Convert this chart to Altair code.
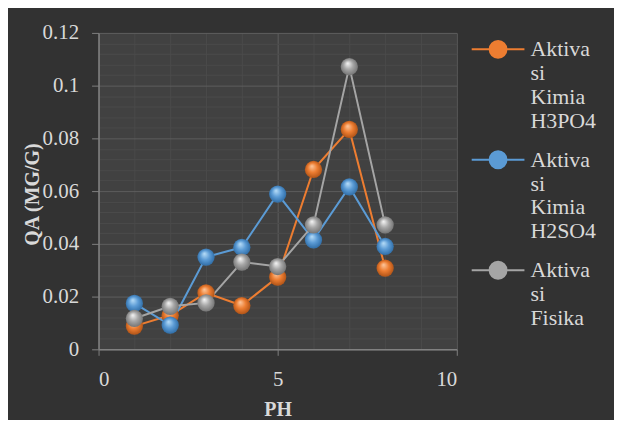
import altair as alt
import pandas as pd

ph = [1, 2, 3, 4, 5, 6, 7, 8]
series_keys = ["Aktiva|si|Kimia|H3PO4", "Aktiva|si|Kimia|H2SO4", "Aktiva|si|Fisika"]
qa_h3po4 = [0.0088, 0.0129, 0.0214, 0.0166, 0.0274, 0.0682, 0.0834, 0.0308]
qa_h2so4 = [0.0174, 0.0092, 0.0350, 0.0387, 0.0589, 0.0415, 0.0616, 0.0390]
qa_fisika = [0.0117, 0.0163, 0.0176, 0.0331, 0.0314, 0.0472, 0.1072, 0.0472]
colors = ["#ED7D31", "#5B9BD5", "#A5A5A5"]
lights = ["#fcc9a0", "#b9def8", "#f7f7f7"]
darks = ["#a84e14", "#2a67a0", "#6e6e6e"]

rows = []
for key, vals in zip(series_keys, [qa_h3po4, qa_h2so4, qa_fisika]):
    for p, v in zip(ph, vals):
        rows.append({"pH": p, "QA": v, "Seri": key})
df = pd.DataFrame(rows)

FONT = "'Liberation Serif', 'Times New Roman', serif"
TXT = "#d9d9d9"

x_enc = alt.X(
    "pH:Q",
    scale=alt.Scale(domain=[0, 10], nice=False),
    axis=alt.Axis(
        values=list(range(0, 11)),
        labelExpr="datum.value % 5 === 0 ? datum.label : ''",
        gridColor={"condition": {"test": "datum.value % 5 === 0", "value": "#5e5e5e"}, "value": "#4b4b4b"},
        tickColor={"condition": {"test": "datum.value % 5 === 0", "value": "#808080"}, "value": "transparent"},
        title="PH",
        titleY=61,
        titleBaseline="middle",
        labelPadding=13,
        tickSize=6,
    ),
)
y_vals = [round(i * 0.004, 3) for i in range(31)]
y_enc = alt.Y(
    "QA:Q",
    scale=alt.Scale(domain=[0, 0.12], nice=False),
    axis=alt.Axis(
        values=y_vals,
        labelExpr="round(datum.value*1000) % 20 === 0 ? format(datum.value, '~g') : ''",
        gridColor={"condition": {"test": "round(datum.value*1000) % 20 === 0", "value": "#5e5e5e"}, "value": "#4b4b4b"},
        tickColor={"condition": {"test": "round(datum.value*1000) % 20 === 0", "value": "#808080"}, "value": "transparent"},
        title="QA (MG/G)",
        titleX=-66,
        titleY=162,
        titleAngle=270,
        titleAlign="center",
        titleBaseline="middle",
        labelPadding=13,
        tickSize=7,
    ),
)

sym_path = ("M-1,0L-0.32,0M0.32,0L1,0M0.32,0A0.32,0.32,0,1,1,-0.32,0"
            "A0.32,0.32,0,1,1,0.32,0Z")

legend = alt.Legend(
    orient="none",
    legendX=374,
    legendY=-11,
    title=None,
    symbolType=sym_path,
    symbolSize=2809,
    symbolStrokeWidth=2,
    symbolFillColor=alt.ExprRef("scale('color', datum.value)"),
    labelFont=FONT,
    labelFontSize=22,
    labelColor=TXT,
    labelExpr="split(datum.label, '|')",
    labelLimit=300,
    labelOffset=5,
    padding=0,
    rowPadding=0,
)

scale = alt.Scale(domain=series_keys, range=colors)

lines = alt.Chart(df).mark_line(strokeWidth=2).encode(
    x=x_enc, y=y_enc, color=alt.Color("Seri:N", scale=scale, legend=legend)
)

layers = [lines]
for key, base, light, dark in zip(series_keys, colors, lights, darks):
    grad = {
        "gradient": "radial",
        "stops": [
            {"offset": 0, "color": light},
            {"offset": 0.5, "color": base},
            {"offset": 1, "color": dark},
        ],
        "x1": 0.4, "y1": 0.3, "r1": 0,
        "x2": 0.5, "y2": 0.5, "r2": 0.55,
    }
    layers.append(
        alt.Chart(df)
        .transform_filter(alt.datum.Seri == key)
        .mark_point(filled=True, size=300, fill=grad, opacity=1, strokeWidth=0)
        .encode(x=x_enc, y=y_enc)
    )

chart = (
    alt.layer(*layers)
    .properties(
        width=360,
        height=318,
        background="#323232",
        padding={"left": 91, "top": 24, "right": 158, "bottom": 70},
        autosize=alt.AutoSizeParams(type="none"),
    )
    .configure_view(stroke=None, fill="#414141")
    .configure_axis(
        labelFont=FONT,
        labelFontSize=21,
        labelColor=TXT,
        titleFont=FONT,
        titleFontSize=20,
        titleFontWeight="bold",
        titleColor=TXT,
        domainColor="#808080",
        domainWidth=1.5,
        gridWidth=1,
    )
)

chart.save("out.html", embed_options={"renderer": "svg", "actions": False})
